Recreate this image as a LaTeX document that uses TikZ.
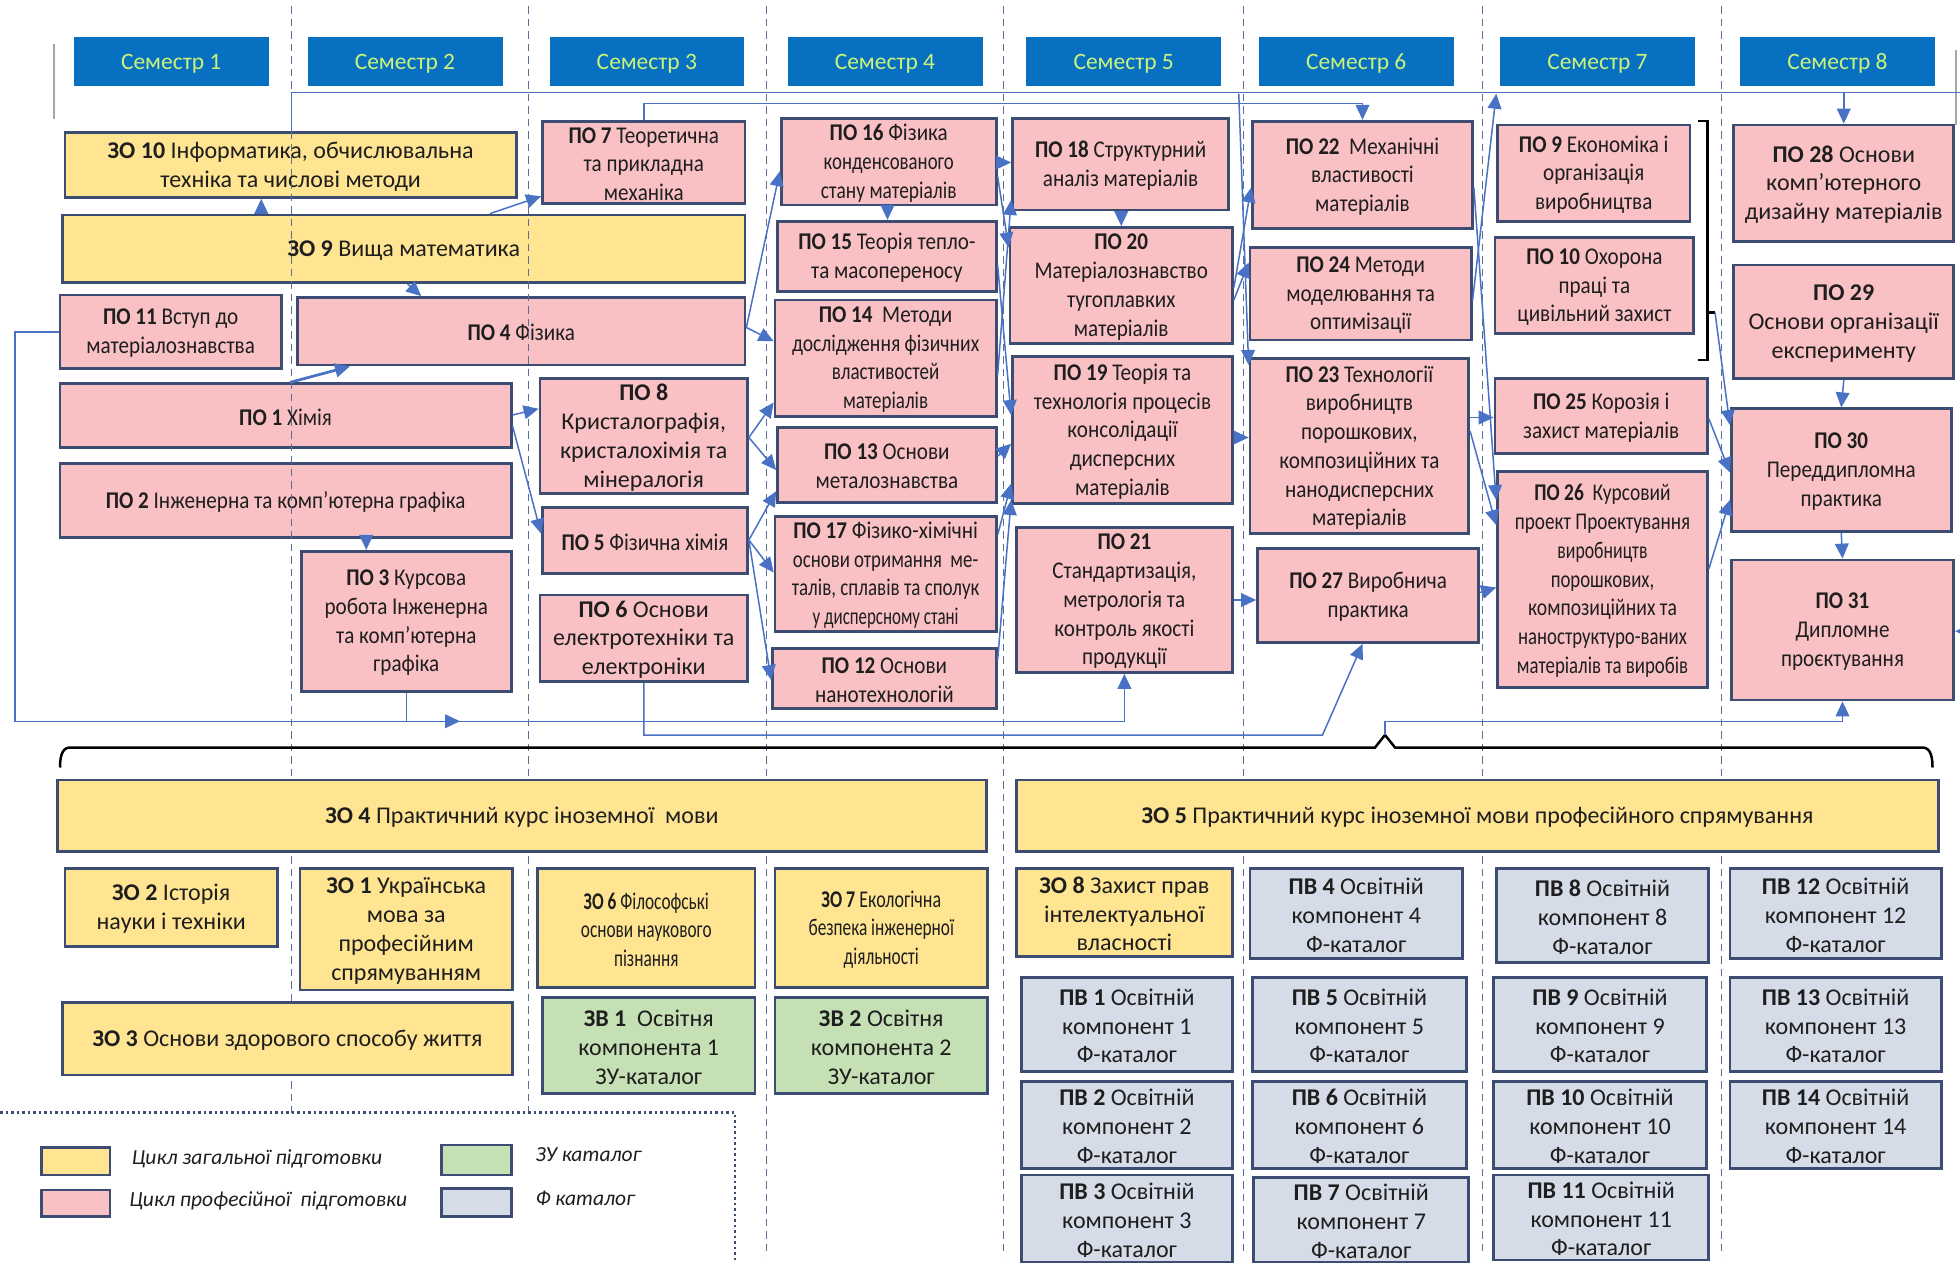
\documentclass[tikz,border=0pt]{standalone}
\usepackage{fontspec}
\setmainfont{Carlito}
\newfontfamily\cfont[FakeStretch=0.88]{Carlito}
\usepackage{graphicx}
\usetikzlibrary{arrows.meta,calc}
\definecolor{yel}{HTML}{FFE591}
\definecolor{pnk}{HTML}{FAC1C5}
\definecolor{grn}{HTML}{C6E0B5}
\definecolor{fcat}{HTML}{D5DCE8}
\definecolor{bord}{HTML}{3D4C72}
\definecolor{txt}{HTML}{1E1E1E}
\definecolor{hblue}{HTML}{0870C0}
\definecolor{hlime}{HTML}{CBF27A}
\definecolor{ablue}{HTML}{4A72C4}
\definecolor{dgray}{HTML}{5B6F96}
\newcommand\cz[2][0.85]{\scalebox{#1}[1]{#2}}
\newcommand\bx[7]{\node[#2, minimum width={(#5-#3)*0.5pt}, minimum height={(#6-#4)*0.5pt}] (#1) at ({(#3+#5)/2},{(#4+#6)/2}) {};
\node[#2, draw=none, fill=none, minimum width=0pt, minimum height=0pt] (#1t) at ([yshift=-0.6pt]#1.center) {#7};}
\tikzset{
 boxbase/.style={draw=bord, line width=1.1pt, inner sep=0pt, align=center, text=txt, font=\fontsize{9.6}{11.5}\selectfont},
 yb/.style={boxbase, fill=yel},
 pb/.style={boxbase, fill=pnk, font=\cfont\fontsize{9.6}{11.5}\selectfont},
 pbn/.style={boxbase, fill=pnk},
 gb/.style={boxbase, fill=grn},
 fb/.style={boxbase, fill=fcat},
 hdr/.style={fill=hblue, text=hlime, inner sep=0pt, font=\fontsize{9.4}{12}\selectfont},
 arr/.style={draw=ablue, line width=0.6pt, -{Triangle[length=6pt,width=5.5pt]}},
 ln/.style={draw=ablue, line width=0.6pt},
 semline/.style={draw=dgray, line width=0.5pt, dash pattern=on 3pt off 2pt},
 legtext/.style={anchor=west, text=txt, inner sep=0pt, font=\fontsize{8.6}{10}\selectfont\itshape},
}
\begin{document}
\begin{tikzpicture}[x=0.5pt,y=-0.5pt]
\useasboundingbox[fill=white] (0,0) rectangle (1568,1010.4);

% semester headers
\bx{s1}{hdr}{59}{30}{215}{69}{Семестр 1}
\bx{s2}{hdr}{246}{30}{402}{69}{Семестр 2}
\bx{s3}{hdr}{440}{30}{595}{69}{Семестр 3}
\bx{s4}{hdr}{630}{30}{786}{69}{Семестр 4}
\bx{s5}{hdr}{821}{30}{977}{69}{Семестр 5}
\bx{s6}{hdr}{1007}{30}{1163}{69}{Семестр 6}
\bx{s7}{hdr}{1200}{30}{1356}{69}{Семестр 7}
\bx{s8}{hdr}{1392}{30}{1548}{69}{Семестр 8}
\coordinate (el1) at (43,35); \coordinate (el2) at (43,95);
\coordinate (er1) at (1565,40); \coordinate (er2) at (1565,100);
\draw[gray!70, line width=0.8pt] (el1) -- (el2);
\draw[gray!70, line width=0.8pt] (er1) -- (er2);

% top-part boxes
\bx{zo10}{yb}{52}{106}{413}{158}{\textbf{ЗО 10} Інформатика, обчислювальна\\техніка та числові методи}
\bx{zo9}{yb}{50}{172}{596}{226}{\textbf{ЗО 9} Вища математика}
\bx{po7}{pb}{434}{97}{596}{163}{\textbf{ПО 7} Теоретична\\та прикладна\\механіка}
\bx{po11}{pb}{48}{236}{225}{295}{\textbf{ПО 11} Вступ до\\матеріалознавства}
\bx{po4}{pb}{238}{238}{596}{292}{\textbf{ПО 4} Фізика}
\bx{po1}{pb}{48}{307}{409}{358}{\textbf{ПО 1} Хімія}
\bx{po2}{pb}{48}{371}{409}{430}{\textbf{ПО 2} Інженерна та комп’ютерна графіка}
\bx{po3}{pb}{241}{441}{409}{553}{\textbf{ПО 3} Курсова\\робота Інженерна\\та комп’ютерна\\графіка}
\bx{po8}{pbn}{432}{303}{598}{395}{\textbf{ПО 8}\\Кристалографія,\\кристалохімія та\\мінералогія}
\bx{po5}{pb}{434}{406}{598}{459}{\textbf{ПО 5} Фізична хімія}
\bx{po6}{pbn}{432}{476}{598}{545}{\textbf{ПО 6} Основи\\електротехніки та\\електроніки}

\bx{po16}{pb}{625}{95}{797}{164}{\textbf{ПО 16} Фізика\\\cz[0.89]{конденсованого}\\\cz[0.92]{стану матеріалів}}
\bx{po15}{pb}{622}{177}{797}{233}{\textbf{ПО 15} Теорія тепло-\\та масопереносу}
\bx{po14}{pb}{620}{240}{797}{333}{\textbf{ПО 14}\ \ Методи\\\cz[0.93]{дослідження фізичних}\\\cz[0.9]{властивостей}\\\cz[0.9]{матеріалів}}
\bx{po13}{pb}{622}{342}{797}{402}{\textbf{ПО 13} Основи\\металознавства}
\bx{po17}{pb}{620}{413}{797}{505}{\textbf{ПО 17} Фізико-хімічні\\\cz[0.89]{основи отримання\ \ ме-}\\\cz[0.9]{талів, сплавів та сполук}\\\cz[0.8]{у дисперсному стані}}
\bx{po12}{pb}{618}{519}{797}{567}{\textbf{ПО 12} Основи\\нанотехнологій}

\bx{po18}{pb}{810}{95}{983}{168}{\textbf{ПО 18} Структурний\\аналіз матеріалів}
\bx{po20}{pb}{808}{182}{986}{275}{\textbf{ПО 20}\\Матеріалознавство\\тугоплавких\\матеріалів}
\bx{po19}{pb}{810}{285}{986}{403}{\textbf{ПО 19} Теорія та\\технологія процесів\\консолідації\\дисперсних\\матеріалів}
\bx{po21}{pb}{813}{422}{986}{538}{\textbf{ПО 21}\\Стандартизація,\\метрологія та\\контроль якості\\продукції}

\bx{po22}{pb}{1002}{97}{1178}{183}{\textbf{ПО 22}\ \ Механічні\\властивості\\матеріалів}
\bx{po24}{pb}{1000}{198}{1177}{272}{\textbf{ПО 24} Методи\\моделювання та\\оптимізації}
\bx{po23}{pb}{1000}{287}{1175}{427}{\textbf{ПО 23} Технології\\виробництв\\порошкових,\\композиційних та\\нанодисперсних\\матеріалів}
\bx{po27}{pb}{1006}{439}{1183}{514}{\textbf{ПО 27} Виробнича\\практика}

\bx{po9}{pb}{1198}{100}{1352}{177}{\textbf{ПО 9} Економіка і\\організація\\виробництва}
\bx{po10}{pb}{1196}{190}{1355}{267}{\textbf{ПО 10} Охорона\\праці та\\цивільний захист}
\bx{po25}{pb}{1196}{303}{1366}{363}{\textbf{ПО 25} Корозія і\\захист матеріалів}
\bx{po26}{pb}{1198}{377}{1366}{550}{\cz[0.92]{\textbf{ПО 26}\ \ Курсовий}\\\cz[0.91]{проект Проектування}\\\cz[0.84]{виробництв}\\\cz[0.89]{порошкових,}\\\cz[0.93]{композиційних та}\\\cz[0.89]{наноструктуро-ваних}\\\cz[0.89]{матеріалів та виробів}}

\bx{po28}{pbn}{1387}{100}{1563}{193}{\textbf{ПО 28} Основи\\комп’ютерного\\дизайну матеріалів}
\bx{po29}{pbn}{1387}{212}{1563}{303}{\textbf{ПО 29}\\Основи організації\\експерименту}
\bx{po30}{pb}{1385}{327}{1561}{425}{\textbf{ПО 30}\\Переддипломна\\практика}
\bx{po31}{pb}{1385}{448}{1563}{560}{\textbf{ПО 31}\\Дипломне\\проєктування}

% bracket by ПО 9 / ПО 10
\coordinate (bra) at (1358,97); \coordinate (brb) at (1366,97);
\coordinate (brc) at (1366,288); \coordinate (brd) at (1358,288);
\coordinate (brm) at (1366,250); \coordinate (brmid) at (1372,250);
\draw[black, line width=0.9pt] (bra) -- (brb) -- (brc) -- (brd);
\draw[black, line width=0.9pt] (brm) -- (brmid);

% semester dashed lines
\foreach \xx in {233,423,613,803,995,1186,1377}{\draw[semline] (\xx,5) -- (\xx,1005);}

% connectors, semesters 1-3
\draw[arr] (zo9.north -| 209,0) -- (zo10.south -| 209,0);
\draw[arr] (zo9.north -| 392,0) -- (po7.west |- 0,157);
\draw[arr] (zo9.south -| 326,0) -- (po4.north -| 337,0);
\draw[arr, line width=1.1pt] (po1.north -| 232,0) -- (po4.south -| 280,0);
\draw[arr] (po1.east |- 0,332) -- (po8.west |- 0,327);
\draw[arr] (po1.east |- 0,341) -- (po5.west |- 0,427);
\draw[arr] (po2.south -| 293,0) -- (po3.north -| 293,0);
\coordinate (c1) at (368,577);
\coordinate (cl) at (12,577);
\draw[arr] (po11.west) -| (cl) -| (po21.south);
\draw[arr] (po3.south) |- (c1);
\coordinate (c2) at (1058,588);
\draw[arr] (po6.south) |- (c2) -- (po27.south -| 1090,0);

% top long lines
\coordinate (redge) at (1568,74);
\draw[arr] (zo10.north -| 233,0) |- (po28.north |- 0,74) -- (po28.north);
\draw[ln] (po28.north |- 0,74) -- (redge);
\draw[arr] (po7.north) |- (po22.north |- 0,83) -- (po22.north);

% semesters 3-4
\draw[arr] (po4.east |- 0,262) -- (po16.west |- 0,137);
\draw[arr] (po4.east |- 0,262) -- (po14.west |- 0,273);
\draw[arr] (po8.east |- 0,350) -- (po14.west |- 0,322);
\draw[arr] (po8.east |- 0,350) -- (po13.west |- 0,376);
\draw[arr] (po5.east |- 0,432) -- (po13.west |- 0,393);
\draw[arr] (po5.east |- 0,432) -- (po17.west |- 0,458);
\draw[arr] (po5.east |- 0,432) -- (po12.west |- 0,544);
\draw[arr] (po16.south -| 710,0) -- (po15.north -| 710,0);
\draw[arr] (po18.south -| 897,0) -- (po20.north -| 897,0);

% semesters 4-5
\draw[arr] (po16.east |- 0,130) -- (po18.west |- 0,130);
\draw[arr] (po16.east |- 0,141) -- (po20.west |- 0,198);
\draw[arr] (po14.east |- 0,300) -- (po18.west |- 0,160);
\draw[arr] (po15.east |- 0,212) -- (po19.west |- 0,332);
\draw[arr] (po13.east |- 0,365) -- (po19.west |- 0,355);
\draw[arr] (po17.east |- 0,428) -- (po19.west |- 0,387);
\draw[arr] (po12.east |- 0,528) -- (po19.west |- 0,400);

% semesters 5-6
\coordinate (t6) at (991,75);
\draw[arr] (t6) -- (po23.west |- 0,292);
\draw[arr] (po20.east |- 0,230) -- (po22.west |- 0,150);
\draw[arr] (po20.east |- 0,240) -- (po24.west |- 0,210);
\draw[arr] (po19.east |- 0,350) -- (po23.west |- 0,350);
\draw[arr] (po21.east |- 0,480) -- (po27.west |- 0,480);

% semesters 6-7
\coordinate (t7) at (1197,75);
\draw[arr] (po24.east |- 0,240) -- (t7);
\draw[arr] (po22.east |- 0,150) -- (po26.west |- 0,400);
\draw[arr] (po23.east |- 0,334) -- (po25.west |- 0,334);
\draw[arr] (po23.east |- 0,345) -- (po26.west |- 0,420);
\draw[arr] (po27.east |- 0,474) -- (po26.west |- 0,470);

% semesters 7-8
\draw[arr] (brmid) -- (po30.west |- 0,340);
\draw[arr] (po25.east |- 0,335) -- (po30.west |- 0,378);
\draw[arr] (po26.east |- 0,455) -- (po30.west |- 0,400);
\draw[arr] (po29.south) -- (po30.north);
\draw[arr] (po30.south) -- (po31.north);
\coordinate (re31) at (1568,505);
\draw[arr] (re31) -- (po31.east |- 0,505);

% big brace
\coordinate (brt) at (1108,588);
\draw[black, line width=1pt] (48,614) to[out=90,in=180] (56,598) -- (1100,598) -- (brt) -- (1116,598) -- (1538,598) to[out=0,in=90] (1546,614);
\draw[arr] (brt) |- (po31.south |- 0,577) -- (po31.south);

% bottom boxes
\bx{zo4}{yb}{46}{624}{789}{681}{\textbf{ЗО 4} Практичний курс іноземної\ \ мови}
\bx{zo5}{yb}{813}{624}{1551}{681}{\textbf{ЗО 5} Практичний курс іноземної мови професійного спрямування}
\bx{zo2}{yb}{52}{695}{222}{757}{\textbf{ЗО 2} Історія\\науки і техніки}
\bx{zo1}{yb}{240}{695}{410}{792}{\textbf{ЗО 1} Українська\\мова за\\професійним\\спрямуванням}
\bx{zo6}{yb}{430}{695}{604}{790}{\cz[0.72]{\textbf{ЗО 6} Філософські}\\\cz[0.72]{основи наукового}\\\cz[0.72]{пізнання}}
\bx{zo7}{yb}{620}{695}{790}{790}{\cz[0.75]{\textbf{ЗО 7} Екологічна}\\\cz[0.72]{безпека інженерної}\\\cz[0.72]{діяльності}}
\bx{zo3}{yb}{50}{802}{410}{860}{\textbf{ЗО 3} Основи здорового способу життя}
\bx{zv1}{gb}{434}{798}{604}{875}{\textbf{ЗВ 1}\ \ Освітня\\компонента 1\\ЗУ-каталог}
\bx{zv2}{gb}{620}{798}{790}{875}{\textbf{ЗВ 2} Освітня\\компонента 2\\ЗУ-каталог}
\bx{zo8}{yb}{813}{695}{986}{765}{\textbf{ЗО 8} Захист прав\\інтелектуальної\\власності}
\bx{pv4}{fb}{1000}{695}{1170}{767}{\textbf{ПВ 4} Освітній\\компонент 4\\Ф-каталог}
\bx{pv8}{fb}{1197}{695}{1367}{770}{\textbf{ПВ 8} Освітній\\компонент 8\\Ф-каталог}
\bx{pv12}{fb}{1384}{695}{1553}{767}{\textbf{ПВ 12} Освітній\\компонент 12\\Ф-каталог}
\bx{pv1}{fb}{817}{782}{986}{857}{\textbf{ПВ 1} Освітній\\компонент 1\\Ф-каталог}
\bx{pv5}{fb}{1002}{782}{1173}{857}{\textbf{ПВ 5} Освітній\\компонент 5\\Ф-каталог}
\bx{pv9}{fb}{1195}{782}{1365}{857}{\textbf{ПВ 9} Освітній\\компонент 9\\Ф-каталог}
\bx{pv13}{fb}{1384}{782}{1553}{857}{\textbf{ПВ 13} Освітній\\компонент 13\\Ф-каталог}
\bx{pv2}{fb}{817}{865}{986}{935}{\textbf{ПВ 2} Освітній\\компонент 2\\Ф-каталог}
\bx{pv6}{fb}{1002}{865}{1173}{935}{\textbf{ПВ 6} Освітній\\компонент 6\\Ф-каталог}
\bx{pv10}{fb}{1195}{865}{1365}{935}{\textbf{ПВ 10} Освітній\\компонент 10\\Ф-каталог}
\bx{pv14}{fb}{1384}{865}{1553}{935}{\textbf{ПВ 14} Освітній\\компонент 14\\Ф-каталог}
\bx{pv3}{fb}{817}{940}{986}{1010}{\textbf{ПВ 3} Освітній\\компонент 3\\Ф-каталог}
\bx{pv7}{fb}{1003}{942}{1175}{1010}{\textbf{ПВ 7} Освітній\\компонент 7\\Ф-каталог}
\bx{pv11}{fb}{1195}{940}{1367}{1008}{\textbf{ПВ 11} Освітній\\компонент 11\\Ф-каталог}

% legend
\fill[white] (0,890) rectangle (588,1010.4);
\coordinate (lg1) at (0,890); \coordinate (lg2) at (588,890); \coordinate (lg3) at (588,1010);
\draw[bord, line width=1.1pt, dash pattern=on 1pt off 1.2pt] (lg1) -- (lg2) -- (lg3);
\bx{ly}{yb}{33}{918}{88}{940}{}
\bx{lp}{pb}{33}{952}{88}{973}{}
\bx{lgr}{gb}{353}{916}{409}{940}{}
\bx{lf}{fb}{353}{951}{409}{973}{}
\node[legtext] (lyt) at (105,927) {Цикл загальної підготовки};
\node[legtext] (lpt) at (103,961) {Цикл професійної\ \ підготовки};
\node[legtext] (lgt) at (428,924) {ЗУ каталог};
\node[legtext] (lft) at (428,959) {Ф каталог};
\end{tikzpicture}
\end{document}
